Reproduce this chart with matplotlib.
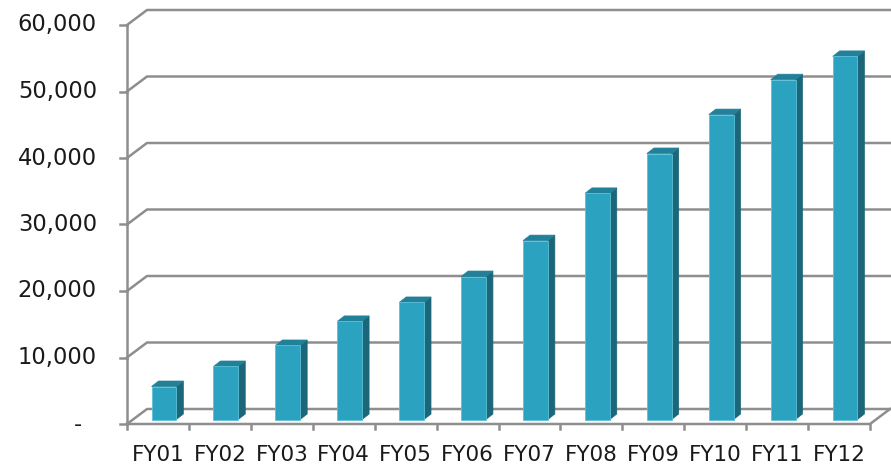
import numpy as np
import matplotlib
matplotlib.use('Agg')
import matplotlib.pyplot as plt
from matplotlib.patches import Polygon

categories = ['FY01', 'FY02', 'FY03', 'FY04', 'FY05', 'FY06',
              'FY07', 'FY08', 'FY09', 'FY10', 'FY11', 'FY12']
values = [4960, 7970, 11130, 14750, 17600, 21500,
          26900, 34000, 40000, 45850, 51100, 54600]
y_ticks = [0, 10000, 20000, 30000, 40000, 50000, 60000]
y_labels = ['-', '10,000', '20,000', '30,000', '40,000', '50,000', '60,000']

front_col = '#2ba2c0'
side_col = '#1c6679'
top_col = '#228099'
grid_col = '#8e8e8e'

W, H = 891, 470
fig = plt.figure(figsize=(W / 100, H / 100), dpi=100)
# front plane of the 3d box, in pixels: x 127..870, y 424..25
ax = fig.add_axes([127 / W, (H - 424) / H, (870 - 127) / W, (424 - 25) / H])
n = len(categories)
ax.set_xlim(0, n)
ax.set_ylim(0, 60000)
ax.axis('off')

# pixel -> data conversion
px = n / (870 - 127)
py = 60000 / (424 - 25)

# wall depth, bar position inside the depth, bar depth
wall_dx, wall_dy = 20 * px, 15 * py
bar_dx, bar_dy = 6 * px, 4.5 * py
dep_dx, dep_dy = 7 * px, 5.5 * py
bw = 0.40

lw = 1.8
# back wall gridlines with their diagonal at the left
for v in y_ticks:
    ax.plot([0, wall_dx, n + wall_dx], [v, v + wall_dy, v + wall_dy],
            color=grid_col, lw=lw, clip_on=False, zorder=1)
    ax.plot([0, -7 * px], [v, v], color=grid_col, lw=lw, clip_on=False, zorder=1)

# front axes and floor edge
ax.plot([0, 0], [0, 60000], color=grid_col, lw=lw, clip_on=False, zorder=1)
ax.plot([0, n, n + wall_dx], [0, 0, wall_dy], color=grid_col, lw=lw,
        clip_on=False, zorder=4)
for i in range(n + 1):
    ax.plot([i, i], [0, -5 * py], color=grid_col, lw=lw, clip_on=False, zorder=4)

# 3d bars
for i, v in enumerate(values):
    x0 = i + 0.5 - bw / 2 + bar_dx
    x1 = x0 + bw
    y0 = bar_dy
    y1 = v + bar_dy
    front = Polygon([(x0, y0), (x1, y0), (x1, y1), (x0, y1)],
                    closed=True, fc=front_col, ec='#5cc0d8', lw=0.6, zorder=3)
    side = Polygon([(x1, y0), (x1 + dep_dx, y0 + dep_dy),
                    (x1 + dep_dx, y1 + dep_dy), (x1, y1)],
                   closed=True, fc=side_col, ec=side_col, lw=0.5, zorder=3)
    top = Polygon([(x0, y1), (x1, y1), (x1 + dep_dx, y1 + dep_dy),
                   (x0 + dep_dx, y1 + dep_dy)],
                  closed=True, fc=top_col, ec=top_col, lw=0.5, zorder=3)
    for p in (side, top, front):
        p.set_clip_on(False)
        ax.add_patch(p)

# y labels
for v, lab in zip(y_ticks, y_labels):
    if v == 0:
        ax.text(-49 * px, -1 * py, lab, ha='center', va='center',
                fontsize=16, color='#1a1a1a', clip_on=False)
    else:
        ax.text(-30 * px, v, lab, ha='right', va='center',
                fontsize=16.3, color='#1a1a1a', clip_on=False)

# x labels
for i, lab in enumerate(categories):
    ax.text(i + 0.5, -31 * py, lab, ha='center', va='center',
            fontsize=15.5, color='#1a1a1a', clip_on=False)

fig.savefig('out.png', dpi=100)
